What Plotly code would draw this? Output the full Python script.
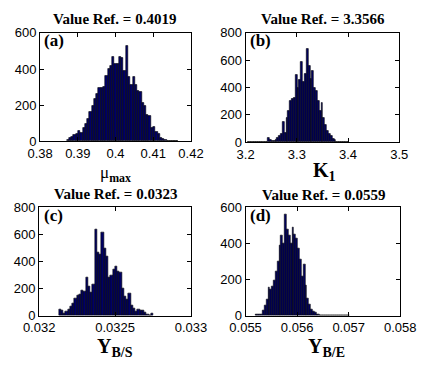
import numpy as np
import plotly.graph_objects as go

W, H = 431, 366

# ---------------- data (histogram counts) ----------------
a_start, a_width = 0.38707, 0.000602
a_counts = [7, 21, 25, 33, 42, 56, 47, 74, 95, 126, 161, 196, 232, 263, 298, 298, 302, 363,
            398, 416, 468, 430, 430, 465, 460, 390, 526, 358, 310, 354, 310, 280, 275, 214,
            196, 147, 143, 74, 77, 51, 39, 18, 12, 7, 4, 0, 0, 0, 2]

b_start, b_width = 3.2036, 0.0036
b_counts = [3, 5, 4, 2, 0, 0, 0, 0, 0, 0, 0, 35, 15, 10, 12, 20, 30, 45, 60, 146, 70, 175,
            230, 300, 318, 322, 490, 400, 455, 590, 440, 500, 685, 560, 460, 520, 400, 375,
            300, 230, 285, 180, 130, 85, 60, 45, 28, 15, 6, 3, 0, 0, 0, 0, 2]

c_start, c_width = 0.03213, 0.0000148
c_counts = [45, 38, 15, 30, 45, 70, 95, 125, 150, 155, 190, 180, 283, 215, 170, 230, 637, 465,
            455, 614, 500, 440, 280, 300, 340, 365, 330, 320, 200, 140, 120, 165, 80, 55, 30,
            50, 40, 38, 22, 12, 5, 15]

d_start, d_width = 0.055186, 0.0000359
d_counts = [7, 5, 6, 9, 27, 57, 89, 156, 146, 160, 195, 248, 302, 390, 444, 400, 559, 480,
            444, 400, 488, 453, 426, 373, 311, 220, 285, 169, 98, 62, 35, 23, 18, 9, 5, 4,
            0, 0, 0, 0, 0, 0, 0, 0, 0, 0, 0, 0, 0, 0, 3]

titles = ["Value Ref. = 0.4019", "Value Ref. = 3.3566", "Value Ref. = 0.0323", "Value Ref. = 0.0559"]
letters = ["(a)", "(b)", "(c)", "(d)"]
xlabels = ["\u03bc<sub><b>max</b></sub>", "<b>K</b><sub><b>1</b></sub>",
           "<b>Y</b><sub><b>B/S</b></sub>", "<b>Y</b><sub><b>B/E</b></sub>"]

a_xticks = [0.38, 0.39, 0.40, 0.41, 0.42]; a_xtext = ["0.38", "0.39", "0.4", "0.41", "0.42"]
b_xticks = [3.2, 3.3, 3.4, 3.5];          b_xtext = ["3.2", "3.3", "3.4", "3.5"]
c_xticks = [0.032, 0.0325, 0.033];        c_xtext = ["0.032", "0.0325", "0.033"]
d_xticks = [0.055, 0.056, 0.057, 0.058];  d_xtext = ["0.055", "0.056", "0.057", "0.058"]
a_yticks = [0, 200, 400, 600]
b_yticks = [0, 200, 400, 600, 800]
c_yticks = [0, 200, 400, 600, 800]
d_yticks = [0, 200, 400, 600]

panels = [
    dict(start=a_start, width=a_width, counts=a_counts, xt=a_xticks, xtt=a_xtext, yt=a_yticks,
         xr=[0.38, 0.42], yr=[0, 600], box=(26, 189, 27, 140)),
    dict(start=b_start, width=b_width, counts=b_counts, xt=b_xticks, xtt=b_xtext, yt=b_yticks,
         xr=[3.2, 3.5], yr=[0, 800], box=(248, 414, 27, 141)),
    dict(start=c_start, width=c_width, counts=c_counts, xt=c_xticks, xtt=c_xtext, yt=c_yticks,
         xr=[0.032, 0.033], yr=[0, 800], box=(25, 189, 209, 322)),
    dict(start=d_start, width=d_width, counts=d_counts, xt=d_xticks, xtt=d_xtext, yt=d_yticks,
         xr=[0.055, 0.058], yr=[0, 600], box=(248, 415, 209, 322)),
]

fig = go.Figure()
tick_font = dict(family="Liberation Sans, Arial", size=13, color="black")
layout = {}
for i, p in enumerate(panels):
    n = len(p["counts"])
    centers = p["start"] + p["width"] * (np.arange(n) + 0.5)
    sfx = "" if i == 0 else str(i + 1)
    fig.add_trace(go.Bar(x=centers, y=p["counts"], width=p["width"],
                         marker=dict(color="#000066", line=dict(color="black", width=0.6)),
                         xaxis="x" + sfx, yaxis="y" + sfx, showlegend=False))
    x0, x1, y0, y1 = p["box"]
    common = dict(showline=True, linecolor="black", linewidth=1, mirror="ticks",
                  ticks="inside", ticklen=4, tickcolor="black", showgrid=False,
                  zeroline=False, tickfont=tick_font)
    layout["xaxis" + sfx] = dict(domain=[x0 / W, x1 / W], range=p["xr"], tickvals=p["xt"],
                                 ticktext=p["xtt"], anchor="y" + sfx, **common)
    layout["yaxis" + sfx] = dict(domain=[1 - y1 / H, 1 - y0 / H], range=p["yr"], tickvals=p["yt"],
                                 anchor="x" + sfx, **common)

fig.update_layout(**layout)

title_pos = [(106, 13), (332, 13), (107, 195), (332, 196)]
letter_pos = [(28, 35), (251, 35), (28, 217), (251, 217)]
xlabel_pos = [(107, 174), (333, 172), (107, 355), (335, 355)]
xlabel_size = [17, 20, 20, 20]

ann = []
for i in range(4):
    tx, ty = title_pos[i]
    ann.append(dict(x=tx / W, y=1 - ty / H, xref="paper", yref="paper", text="<b>" + titles[i] + "</b>",
                    showarrow=False, xanchor="center", yanchor="middle",
                    font=dict(family="Liberation Serif, Times New Roman", size=15, color="black")))
    lx, ly = letter_pos[i]
    ann.append(dict(x=lx / W, y=1 - ly / H, xref="paper", yref="paper", text="<b>" + letters[i] + "</b>",
                    showarrow=False, xanchor="left", yanchor="middle",
                    font=dict(family="Liberation Serif, Times New Roman", size=17, color="black")))
    xx, xy = xlabel_pos[i]
    ann.append(dict(x=xx / W, y=1 - xy / H, xref="paper", yref="paper", text=xlabels[i],
                    showarrow=False, xanchor="center", yanchor="middle",
                    font=dict(family="Liberation Serif, Times New Roman", size=xlabel_size[i], color="black")))

fig.update_layout(annotations=ann, width=W, height=H, margin=dict(l=0, r=0, t=0, b=0),
                  paper_bgcolor="white", plot_bgcolor="white", bargap=0)

fig.write_html("out.html")
